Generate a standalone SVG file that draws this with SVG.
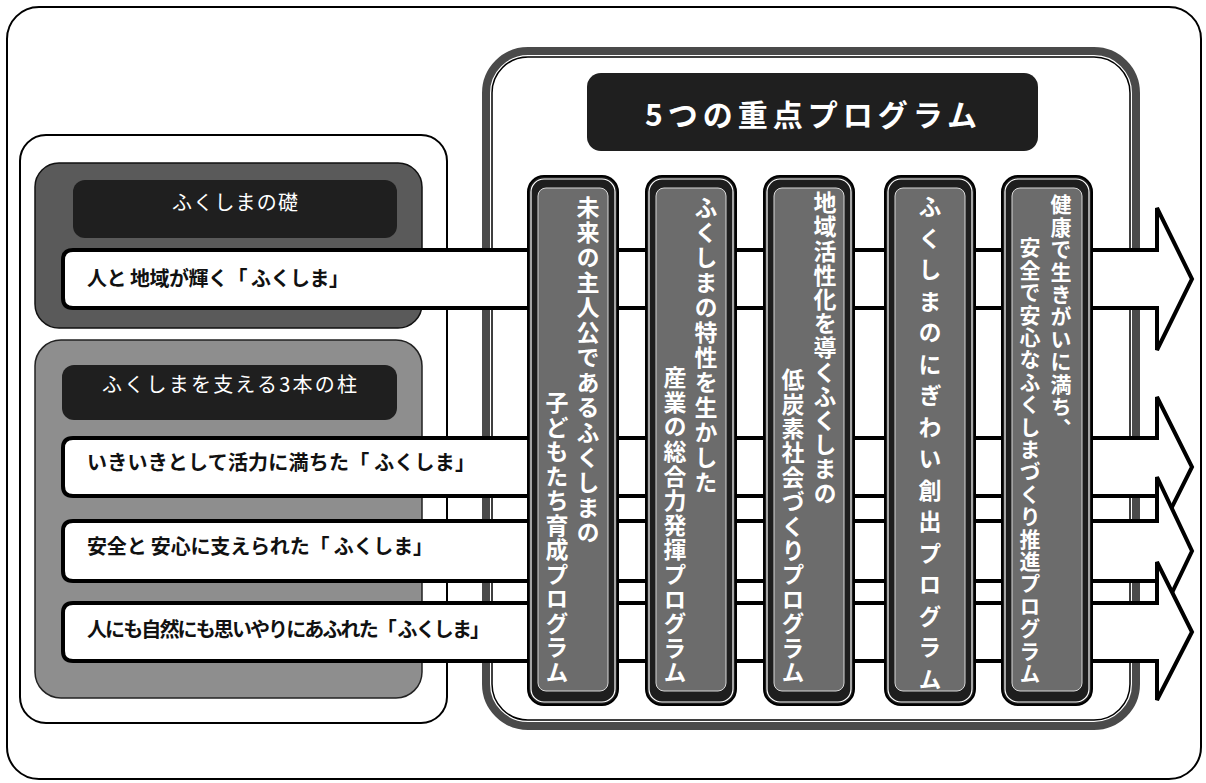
<svg xmlns="http://www.w3.org/2000/svg" width="1206" height="783" viewBox="0 0 1206 783">
<defs>
<style>
.jp{font-family:"Noto Sans CJK JP","Noto Sans CJK SC",sans-serif;}
.lbl{font-size:20px;font-weight:700;fill:#111;}
.hdr{font-size:20px;font-weight:400;fill:#fff;}
.ttl{font-size:30px;font-weight:700;fill:#fff;}
.vt{writing-mode:vertical-rl;font-size:23px;font-weight:700;fill:#fff;}
.arrow{fill:#fff;stroke:#000;stroke-width:4;stroke-linejoin:miter;}
.colO{fill:#1e1e1e;stroke:#000;stroke-width:2;}
.colW{fill:none;stroke:#fff;stroke-width:1.2;}
.colI{fill:#6c6c6c;stroke:#d8d8d8;stroke-width:1;}
.dark{fill:#1f1f1f;}
</style>
</defs>
<rect x="0" y="0" width="1206" height="783" fill="#fff"/>
<g id="frame">
<rect x="7" y="7" width="1194" height="772" rx="32" fill="#fff" stroke="#000" stroke-width="2"/>
</g>
<g id="left-box">
<rect x="20" y="135" width="427" height="588" rx="26" fill="#fff" stroke="#000" stroke-width="2"/>
</g>
<g id="foundation">
<rect x="35" y="163" width="387" height="165" rx="24" fill="#5a5a5a" stroke="#111" stroke-width="1.5"/>
<rect class="dark" x="73" y="180" width="324" height="58" rx="12"/>
<text class="jp hdr" x="172" y="210" textLength="126" lengthAdjust="spacing">ふくしまの礎</text>
</g>
<g id="pillars">
<rect x="35" y="340" width="387" height="358" rx="26" fill="#8e8e8e" stroke="#222" stroke-width="1.5"/>
<rect class="dark" x="62" y="365" width="335" height="55" rx="12"/>
<text class="jp hdr" x="102" y="392" textLength="255" lengthAdjust="spacing">ふくしまを支える3本の柱</text>
</g>
<g id="program-box">
<rect x="486" y="51" width="650" height="675" rx="42" fill="#fff" stroke="#4a4a4a" stroke-width="8"/>
<rect x="492" y="57" width="638" height="663" rx="36" fill="none" stroke="#000" stroke-width="1.5"/>
<rect class="dark" x="587" y="73" width="451" height="78" rx="14"/>
<text class="jp ttl" x="645" y="126" textLength="332" lengthAdjust="spacing">5つの重点プログラム</text>
</g>
<g id="connectors">
<path class="arrow" d="M73,250 H1157 V208 L1192,279 L1157,350 V308 H73 Q63,308 63,298 V260 Q63,250 73,250 Z"/>
<text class="jp lbl" x="87" y="286" textLength="262" lengthAdjust="spacing">人と 地域が輝く「 ふくしま」</text>
<path class="arrow" d="M73,438 H1157 V397 L1192,467 L1157,537 V496 H73 Q63,496 63,486 V448 Q63,438 73,438 Z"/>
<text class="jp lbl" x="87" y="470" textLength="388" lengthAdjust="spacing">いきいきとして活力に満ちた「 ふくしま」</text>
<path class="arrow" d="M73,521 H1157 V477 L1192,551 L1157,624 V581 H73 Q63,581 63,571 V531 Q63,521 73,521 Z"/>
<text class="jp lbl" x="87" y="554" textLength="346" lengthAdjust="spacing">安全と 安心に支えられた「 ふくしま」</text>
<path class="arrow" d="M73,603 H1157 V562 L1192,632 L1157,700 V661 H73 Q63,661 63,651 V613 Q63,603 73,603 Z"/>
<text class="jp lbl" x="87" y="637" textLength="403" lengthAdjust="spacing">人にも自然にも思いやりにあふれた「 ふくしま」</text>
</g>
<g id="col1">
<rect class="colO" x="528" y="176" width="90" height="529" rx="16"/>
<rect class="colW" x="531" y="179" width="84" height="523" rx="13"/>
<rect class="colI" x="538" y="188" width="70" height="503" rx="8"/>
<text class="jp vt" x="588" y="196" letter-spacing="2">未来の主人公であるふくしまの</text>
<text class="jp vt" x="557" y="391" letter-spacing="1.5">子どもたち育成プログラム</text>
</g>
<g id="col2">
<rect class="colO" x="646" y="176" width="90" height="529" rx="16"/>
<rect class="colW" x="649" y="179" width="84" height="523" rx="13"/>
<rect class="colI" x="656" y="188" width="70" height="503" rx="8"/>
<text class="jp vt" x="706" y="196" letter-spacing="2">ふくしまの特性を生かした</text>
<text class="jp vt" x="675" y="366" letter-spacing="1.6">産業の総合力発揮プログラム</text>
</g>
<g id="col3">
<rect class="colO" x="764" y="176" width="90" height="529" rx="16"/>
<rect class="colW" x="767" y="179" width="84" height="523" rx="13"/>
<rect class="colI" x="774" y="188" width="70" height="503" rx="8"/>
<text class="jp vt" x="825" y="191" letter-spacing="1.2">地域活性化を導くふくしまの</text>
<text class="jp vt" x="793" y="368" letter-spacing="1.4">低炭素社会づくりプログラム</text>
</g>
<g id="col4">
<rect class="colO" x="885" y="176" width="90" height="529" rx="16"/>
<rect class="colW" x="888" y="179" width="84" height="523" rx="13"/>
<rect class="colI" x="895" y="188" width="70" height="503" rx="8"/>
<text class="jp vt" x="930" y="195" letter-spacing="8.5">ふくしまのにぎわい創出プログラム</text>
</g>
<g id="col5">
<rect class="colO" x="1002" y="176" width="90" height="529" rx="16"/>
<rect class="colW" x="1005" y="179" width="84" height="523" rx="13"/>
<rect class="colI" x="1012" y="188" width="70" height="503" rx="8"/>
<text class="jp vt" x="1061" y="194" style="font-size:21px" letter-spacing="1.4">健康で生きがいに満ち、</text>
<text class="jp vt" x="1030" y="237" style="font-size:21px" letter-spacing="1.4">安全で安心なふくしまづくり推進プログラム</text>
</g>
</svg>
